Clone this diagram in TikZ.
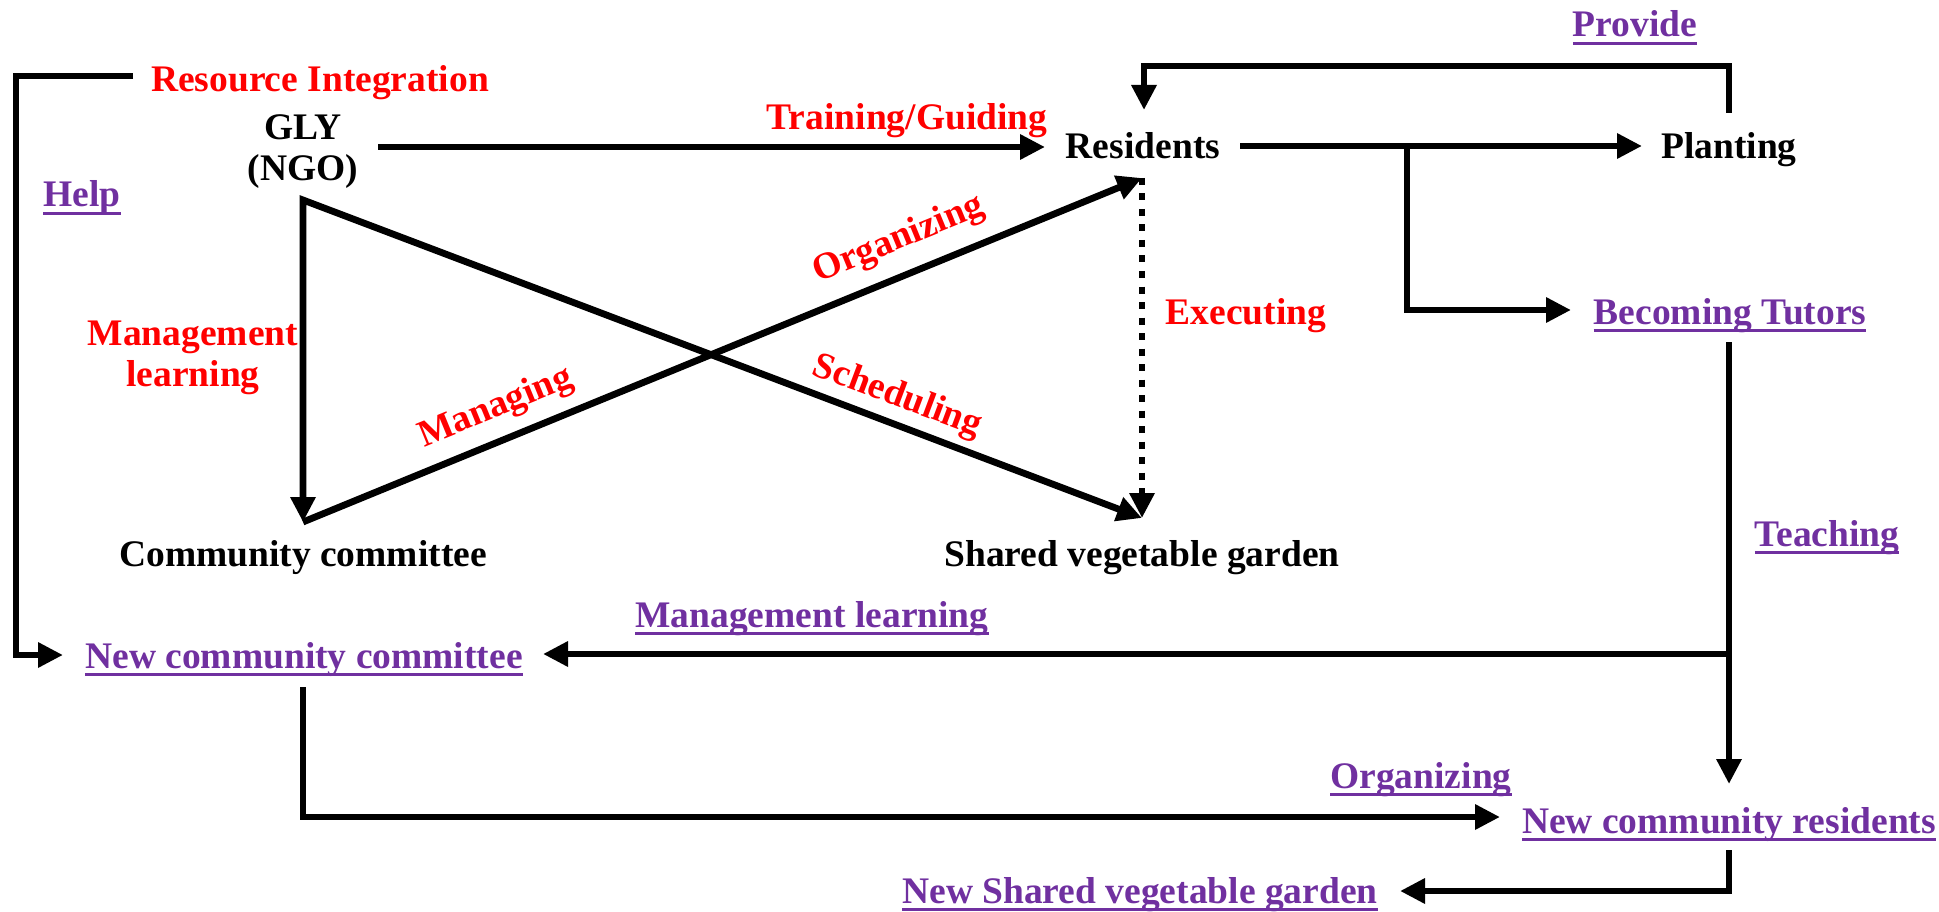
\documentclass[tikz,border=0pt]{standalone}
\usepackage{fontspec}
\setmainfont{Liberation Serif}
\usetikzlibrary{arrows.meta}
\definecolor{myred}{HTML}{FF0000}
\definecolor{mypurple}{HTML}{7030A0}
\newcommand{\myul}[1]{\setbox0\hbox{#1}\rlap{\rule[-8pt]{\wd0}{2.6pt}}\box0}
\begin{document}
\begin{tikzpicture}[x=1pt,y=-1pt,
  txt/.style={font=\fontsize{37.5}{41}\selectfont\bfseries, inner sep=0pt, anchor=base},
  blk/.style={txt, text=black},
  redl/.style={txt, text=myred},
  pur/.style={txt, text=mypurple},
  conn/.style={line width=6.8pt, -{Triangle[length=25pt,width=24pt]}},
  dotline/.style={conn, dash pattern=on 7pt off 8.5pt}
]
\useasboundingbox (0,0) rectangle (1939,912);

% nodes
\node[redl] (ri) at (320,92) {Resource Integration};
\node[blk, align=center, anchor=center] (gly) at (303,152) {GLY\\(NGO)};
\node[pur] (help) at (82,207) {\myul{Help}};
\node[redl] (tg) at (907,130) {Training/Guiding};
\node[blk] (res) at (1143,159) {Residents};
\node[blk] (plant) at (1729,159) {Planting};
\node[pur] (prov) at (1635,37) {\myul{Provide}};
\node[redl] (exe) at (1246,324) {Executing};
\node[redl, align=center, anchor=center] (ml) at (193,358) {Management\\learning};
\node[blk] (cc) at (303,566) {Community committee};
\node[blk] (svg) at (1142,566) {Shared vegetable garden};
\node[pur] (ncc) at (304,668) {\myul{New community committee}};
\node[pur] (ml2) at (812,627) {\myul{Management learning}};
\node[pur] (bt) at (1730,324) {\myul{Becoming Tutors}};
\node[pur] (teach) at (1827,546) {\myul{Teaching}};
\node[pur] (org2) at (1421,788) {\myul{Organizing}};
\node[pur] (ncr) at (1729,833) {\myul{New community residents}};
\node[pur] (nsvg) at (1140,903) {\myul{New Shared vegetable garden}};
\node[redl, anchor=center, rotate=22.3] (org) at (899,240) {Organizing};
\node[redl, anchor=center, rotate=22.3] (man) at (496,408) {Managing};
\node[redl, anchor=center, rotate=-20.5] (sch) at (897,397) {Scheduling};

% connector end points
\coordinate (lbTop) at (133,76);
\coordinate (nccL) at (63,655);
\coordinate (glyR) at (378,147);
\coordinate (resL) at (1045,147);
\coordinate (glyB) at (303,200);
\coordinate (ccT) at (303,522);
\coordinate (svgT) at (1142,518);
\coordinate (resB) at (1142,178);
\coordinate (resR) at (1240,146);
\coordinate (plantL) at (1642,146);
\coordinate (brA) at (1407,146);
\coordinate (btL) at (1571,310);
\coordinate (plantT) at (1729,113);
\coordinate (resT) at (1144,110);
\coordinate (btB) at (1729,342);
\coordinate (ncrT) at (1729,784);
\coordinate (brB) at (1729,654);
\coordinate (nccR) at (543,654);
\coordinate (nccB) at (303,687);
\coordinate (ncrL) at (1500,817);
\coordinate (ncrB) at (1729,850);
\coordinate (nsvgR) at (1400,891);

% connectors
\draw[conn] (lbTop) -- ++(-117,0) |- (nccL);
\draw[conn] (glyR) -- (resL);
\draw[line width=6.8pt, {Triangle[length=25pt,width=24pt]}-{Triangle[length=25pt,width=24pt]}] (ccT) -- (glyB) -- (svgT);
\draw[conn] (ccT) -- (resB);
\draw[dotline] (resB) -- (svgT);
\draw[conn] (resR) -- (plantL);
\draw[conn] (brA) |- (btL);
\draw[conn] (plantT) -- ++(0,-47) -| (resT);
\draw[conn] (btB) -- (ncrT);
\draw[conn] (brB) -- (nccR);
\draw[conn] (nccB) |- (ncrL);
\draw[conn] (ncrB) |- (nsvgR);
\end{tikzpicture}
\end{document}
